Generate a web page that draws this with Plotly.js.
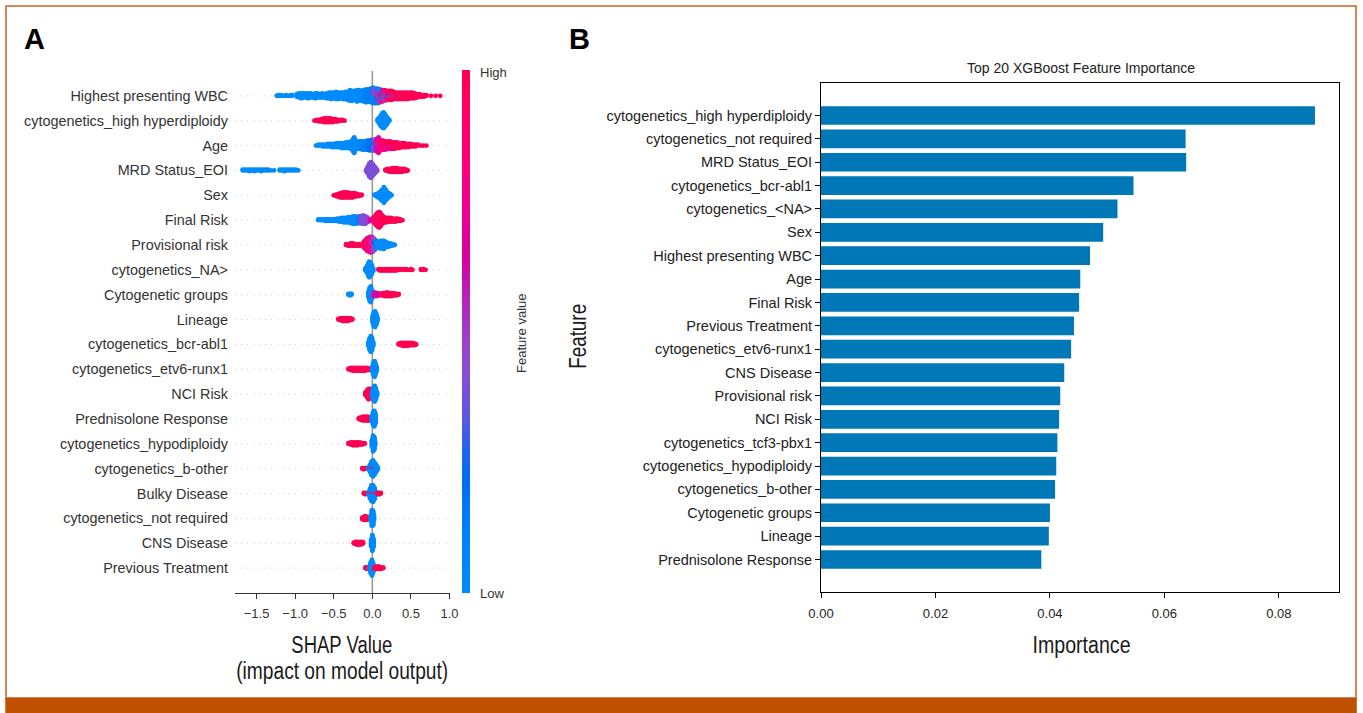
<!DOCTYPE html>
<html>
<head>
<meta charset="utf-8">
<script src="https://cdn.plot.ly/plotly-3.0.1.min.js"></script>
<style>html,body{margin:0;padding:0;background:#fff;}#chart{width:1363px;height:713px;}</style>
</head>
<body>
<div id="chart"></div>
<script>
// ---------------- Panel A : SHAP summary (beeswarm) ----------------
// feature labels, top to bottom
const shapFeatures = ["Highest presenting WBC", "cytogenetics_high hyperdiploidy", "Age", "MRD Status_EOI", "Sex",
  "Final Risk", "Provisional risk", "cytogenetics_NA>", "Cytogenetic groups", "Lineage", "cytogenetics_bcr-abl1",
  "cytogenetics_etv6-runx1", "NCI Risk", "Prednisolone Response", "cytogenetics_hypodiploidy", "cytogenetics_b-other",
  "Bulky Disease", "cytogenetics_not required", "CNS Disease", "Previous Treatment"];

// each entry: [SHAP value, number of samples at that value, feature value (0 = low, 1 = high)]
const shapWBC = [
  [-1.24,1,0],[-1.22,2,0],[-1.20,2,0],[-1.18,2,0],[-1.15,1,0],[-1.12,2,0],[-1.09,1,0],[-1.06,2,0],[-1.04,2,0],
  [-0.98,4,0],[-0.95,6,0],[-0.92,7,0],[-0.89,6,0],[-0.86,6,0],[-0.83,7,0],[-0.80,6,0],[-0.77,5,0],[-0.74,7,0],[-0.71,6,0],[-0.68,5,0],[-0.65,6,0],[-0.62,5,0],
  [-0.59,7,0],[-0.56,8,0],[-0.53,9,0],[-0.50,8,0],[-0.47,10,0],[-0.44,9,0],[-0.41,8,0],[-0.38,9,0],[-0.35,10,0],[-0.32,11,0],
  [-0.29,14,0],[-0.26,13,0],[-0.23,12,0],[-0.20,15,0],[-0.17,14,0],[-0.14,13,0],[-0.11,15,0.05],[-0.08,17,0.1],[-0.05,16,0.1],[-0.02,18,0.15],
  [0.01,12,0.1],[0.01,8,0.4],[0.04,10,0.15],[0.04,9,0.45],[0.07,8,0.1],[0.07,6,0.5],[0.07,5,0.8],
  [0.10,6,0.05],[0.10,6,0.55],[0.10,5,0.85],[0.13,5,0.1],[0.13,5,0.6],[0.13,5,0.85],[0.16,4,0.05],[0.16,5,0.5],[0.16,5,0.9],
  [0.19,3,0.1],[0.19,4,0.65],[0.19,5,0.9],[0.22,3,0.05],[0.22,4,0.7],[0.22,5,1],[0.25,3,0.3],[0.25,4,0.8],[0.25,5,1],[0.28,2,0.1],[0.28,4,0.85],[0.28,4,1],
  [0.31,2,0.05],[0.31,7,1],[0.34,2,0.6],[0.34,7,1],[0.37,2,0.1],[0.37,7,0.95],[0.40,9,1],[0.43,2,0.3],[0.43,7,1],[0.46,9,1],[0.49,8,0.9],[0.52,8,1],
  [0.55,7,1],[0.58,5,1],[0.61,4,1],[0.64,3,1],[0.67,3,1],[0.70,2,1],[0.76,1,1],[0.82,1,1],[0.88,1,1]
];
const shapHyper = [
  [-0.75,1,1],[-0.72,2,1],[-0.69,3,1],[-0.66,4,1],[-0.63,6,1],[-0.60,6,1],[-0.57,6,1],[-0.54,6,1],[-0.51,5,1],[-0.48,4,1],[-0.45,3,1],[-0.42,2,1],[-0.39,2,1],[-0.36,1,1],
  [0.07,4,0],[0.09,9,0],[0.11,15,0],[0.13,20,0],[0.145,22,0],[0.16,18,0],[0.18,13,0],[0.20,7,0],[0.22,2,0]
];
const shapAge = [
  [-0.73,1,0],[-0.70,2,0],[-0.67,2,0],[-0.64,3,0],[-0.61,3,0],[-0.58,4,0],[-0.55,4,0],[-0.52,5,0],[-0.49,5,0],[-0.46,6,0],[-0.43,6,0],[-0.40,7,0],[-0.37,7,0],
  [-0.34,8,0],[-0.31,8,0],[-0.28,10,0],[-0.25,16,0],[-0.235,20,0.05],[-0.22,12,0],[-0.19,10,0],[-0.16,10,0.05],[-0.13,11,0.1],[-0.10,11,0.1],[-0.07,12,0.15],[-0.04,13,0.2],[-0.01,14,0.2],
  [0.02,8,0.45],[0.02,6,0.2],[0.05,8,0.6],[0.05,6,0.8],[0.05,2,0.3],[0.08,10,0.7],[0.08,8,0.85],[0.08,2,0.4],[0.11,8,0.75],[0.11,6,0.9],[0.14,7,0.85],[0.14,5,1],
  [0.17,6,0.8],[0.17,5,1],[0.20,5,0.7],[0.20,5,1],[0.23,5,0.85],[0.23,5,1],[0.26,4,0.6],[0.26,5,1],[0.29,4,0.8],[0.29,5,1],[0.32,8,1],[0.35,7,1],[0.38,6,0.9],
  [0.41,6,1],[0.44,5,1],[0.47,5,1],[0.50,4,1],[0.53,3,1],[0.56,3,1],[0.59,2,1],[0.63,1,1],[0.66,1,1],[0.70,1,1]
];
const shapMRD = [
  [-1.68,2,0],[-1.65,2,0],[-1.62,2,0],[-1.59,3,0],[-1.56,2,0],[-1.53,3,0],[-1.50,2,0],[-1.47,2,0],[-1.44,3,0],[-1.41,2,0],[-1.38,2,0],[-1.35,2,0],[-1.32,1,0],[-1.275,1,0],
  [-1.20,2,0],[-1.17,2,0],[-1.14,3,0],[-1.11,2,0],[-1.08,2,0],[-1.05,2,0],[-1.02,2,0],[-0.99,2,0],[-0.96,1,0],
  [-0.08,3,0.4],[-0.06,10,0.4],[-0.04,18,0.4],[-0.02,22,0.4],[0.00,18,0.4],[0.02,12,0.4],[0.04,8,0.4],[0.06,3,0.4],
  [0.17,2,1],[0.20,4,1],[0.23,5,1],[0.26,6,1],[0.29,6,1],[0.32,6,1],[0.35,5,1],[0.38,5,1],[0.41,4,1],[0.44,3,1],[0.46,1,1]
];
const shapSex = [
  [-0.50,1,1],[-0.47,3,1],[-0.44,5,1],[-0.41,7,1],[-0.38,8,1],[-0.35,8,1],[-0.32,8,1],[-0.29,7,1],[-0.26,7,1],[-0.23,6,1],[-0.20,4,1],[-0.17,3,1],[-0.14,2,1],
  [0.03,2,0],[0.06,5,0],[0.09,9,0],[0.12,15,0],[0.15,22,0],[0.17,16,0],[0.19,11,0],[0.21,7,0],[0.23,4,0],[0.25,1,0]
];
const shapFinal = [
  [-0.70,2,0],[-0.67,2,0],[-0.64,2,0],[-0.61,3,0],[-0.58,3,0],[-0.55,3,0],[-0.52,3,0],[-0.49,3,0],[-0.46,4,0],[-0.43,5,0],[-0.40,6,0],[-0.37,7,0],[-0.34,7,0],
  [-0.31,8,0],[-0.28,9,0],[-0.25,11,0],[-0.22,11,0],[-0.19,9,0.05],[-0.17,10,0.15],
  [-0.15,10,0.4],[-0.13,12,0.4],[-0.11,12,0.4],[-0.09,11,0.4],[-0.07,8,0.45],[-0.05,5,0.5],[-0.03,3,0.6],
  [0.01,6,0.85],[0.03,10,0.9],[0.05,16,0.9],[0.07,20,0.95],[0.09,22,0.95],[0.11,18,0.95],[0.13,12,1],[0.15,8,1],[0.18,7,1],[0.21,6,1],[0.24,6,1],[0.27,5,1],
  [0.30,5,1],[0.33,4,1],[0.36,3,1],[0.39,1,1]
];
const shapProv = [
  [-0.34,2,1],[-0.31,3,1],[-0.28,4,1],[-0.25,4,1],[-0.22,3,1],[-0.19,3,1],[-0.16,3,1],
  [-0.11,8,1],[-0.09,12,0.9],[-0.07,16,0.85],[-0.05,18,0.85],[-0.03,20,0.8],[-0.01,12,0.8],[-0.01,8,0.45],[0.01,10,0.45],[0.01,8,0.8],[0.03,8,0.45],[0.03,6,0.2],[0.05,10,0.1],
  [0.07,8,0],[0.09,9,0],[0.11,10,0],[0.13,10,0],[0.15,11,0],[0.17,8,0],[0.19,6,0],[0.21,5,0],[0.23,4,0],[0.25,3,0],[0.27,2,0],[0.29,1,0]
];
const shapNA = [
  [-0.09,4,0],[-0.07,10,0],[-0.05,18,0],[-0.04,22,0],[-0.03,20,0],[-0.01,14,0],[0.01,5,0],
  [0.08,2,1],[0.10,3,1],[0.13,3,1],[0.16,3,1],[0.19,3,1],[0.22,3,1],[0.25,3,1],[0.28,3,1],[0.31,3,1],[0.34,2,1],[0.37,2,1],
  [0.41,2,1],[0.44,2,1],[0.47,1,1],[0.50,2,1],[0.52,1,1],[0.63,2,1],[0.66,2,1],[0.69,1,1]
];
const shapGroups = [
  [-0.31,2,0],[-0.29,3,0],[-0.27,2,0],
  [-0.05,8,0],[-0.035,18,0],[-0.02,22,0],[-0.005,12,0],
  [0.01,5,0.55],[0.03,6,0.6],[0.05,5,0.6],[0.07,4,0.65],[0.09,3,0.7],
  [0.13,4,1],[0.16,5,1],[0.19,6,1],[0.22,5,1],[0.25,5,1],[0.28,4,1],[0.31,3,1],[0.34,2,1]
];
const shapLineage = [
  [-0.44,2,1],[-0.41,4,1],[-0.38,5,1],[-0.35,5,1],[-0.32,5,1],[-0.29,4,1],[-0.26,2,1],
  [0.005,10,0],[0.02,20,0],[0.035,22,0],[0.05,16,0],[0.065,6,0]
];
const shapBcr = [
  [-0.05,6,0],[-0.035,16,0],[-0.02,22,0],[-0.005,18,0],[0.01,6,0],
  [0.34,2,1],[0.37,4,1],[0.40,5,1],[0.43,5,1],[0.46,5,1],[0.49,4,1],[0.52,4,1],[0.55,3,1],[0.57,1,1]
];
const shapEtv6 = [
  [-0.31,2,1],[-0.28,4,1],[-0.25,5,1],[-0.22,5,1],[-0.19,5,1],[-0.16,5,1],[-0.13,5,1],[-0.10,5,1],[-0.07,4,1],[-0.04,3,1],
  [0.0,8,0],[0.015,18,0],[0.03,22,0],[0.045,14,0],[0.055,6,0]
];
const shapNCI = [
  [-0.09,4,1],[-0.07,10,1],[-0.05,15,1],[-0.03,14,1],[-0.015,8,1],
  [0.0,8,0],[0.015,18,0],[0.03,22,0],[0.045,16,0],[0.06,6,0]
];
const shapPred = [
  [-0.175,2,1],[-0.15,4,1],[-0.12,6,1],[-0.09,6,1],[-0.06,6,1],[-0.03,5,1],
  [-0.005,8,0],[0.01,18,0],[0.025,22,0],[0.04,14,0]
];
const shapHypo = [
  [-0.31,2,1],[-0.28,4,1],[-0.25,5,1],[-0.22,5,1],[-0.19,5,1],[-0.16,4,1],[-0.13,3,1],[-0.10,2,1],
  [-0.005,10,0],[0.01,22,0],[0.025,18,0],[0.035,6,0]
];
const shapBother = [
  [-0.13,2,1],[-0.11,3,1],[-0.09,2,1],
  [-0.05,4,0],[-0.03,10,0],[-0.03,2,1],[-0.01,18,0],[-0.01,4,1],[0.01,22,0],[0.01,4,1],[0.03,16,0],[0.03,3,1],[0.05,10,0],[0.05,2,1],[0.07,4,0]
];
const shapBulky = [
  [-0.11,2,1],[-0.09,3,1],
  [-0.05,4,0],[-0.03,12,0],[-0.03,3,1],[-0.01,20,0],[-0.01,4,1],[0.01,22,0],[0.01,3,1],[0.03,14,0],[0.03,3,1],[0.05,5,0],[0.06,2,1],[0.09,3,1],[0.11,2,1]
];
const shapNotReq = [
  [-0.13,3,1],[-0.11,5,1],[-0.09,6,1],[-0.07,5,1],[-0.05,2,1],
  [-0.02,8,0],[-0.005,22,0],[0.01,20,0],[0.02,8,0]
];
const shapCNS = [
  [-0.24,2,1],[-0.22,4,1],[-0.19,5,1],[-0.16,5,1],[-0.13,4,1],[-0.12,2,1],
  [-0.015,10,0],[0.0,22,0],[0.015,12,0]
];
const shapPrev = [
  [-0.09,2,1],[-0.07,3,1],[-0.05,2,1],
  [-0.035,6,0],[-0.02,16,0],[-0.005,22,0],[0.01,14,0],[0.02,4,0],
  [0.03,3,1],[0.05,4,1],[0.07,4,1],[0.09,4,1],[0.11,3,1],[0.14,2,1]
];
const shapTicks = [-1.5, -1.0, -0.5, 0.0, 0.5, 1.0];

// ---------------- Panel B : XGBoost feature importance ----------------
const impFeatures = ["cytogenetics_high hyperdiploidy", "cytogenetics_not required", "MRD Status_EOI", "cytogenetics_bcr-abl1",
  "cytogenetics_<NA>", "Sex", "Highest presenting WBC", "Age", "Final Risk", "Previous Treatment", "cytogenetics_etv6-runx1",
  "CNS Disease", "Provisional risk", "NCI Risk", "cytogenetics_tcf3-pbx1", "cytogenetics_hypodiploidy", "cytogenetics_b-other",
  "Cytogenetic groups", "Lineage", "Prednisolone Response"];
const impValues = [0.0863, 0.0637, 0.0638, 0.0546, 0.0518, 0.0493, 0.0470, 0.0453, 0.0451, 0.0442, 0.0437,
  0.0425, 0.0418, 0.0416, 0.0413, 0.0411, 0.0409, 0.0400, 0.0398, 0.0385];
const impTicks = [0, 0.02, 0.04, 0.06, 0.08];

// ---------------- build ----------------
const W = 1363, H = 713;
const px = v => v / W, py = v => 1 - v / H;
const esc = s => s.replace(/&/g, '&amp;').replace(/</g, '&lt;').replace(/>/g, '&gt;');

const shapRows = [shapWBC, shapHyper, shapAge, shapMRD, shapSex, shapFinal, shapProv, shapNA, shapGroups, shapLineage,
  shapBcr, shapEtv6, shapNCI, shapPred, shapHypo, shapBother, shapBulky, shapNotReq, shapCNS, shapPrev];

// beeswarm layout in the manner of shap: stack points of the same value alternately above / below the row
function swarm(clusters) {
  const cols = new Map();
  clusters.forEach(cl => {
    const k = cl[0].toFixed(4);
    if (!cols.has(k)) cols.set(k, []);
    cols.get(k).push(cl);
  });
  const keys = [...cols.keys()].sort((a, b) => parseFloat(a) - parseFloat(b));
  const out = [];
  let maxOff = 0;
  keys.forEach(k => {
    const g = cols.get(k);
    const maxN = Math.max(...g.map(c => c[1]));
    const seq = [];
    for (let r = 0; r < maxN; r++) g.forEach(c => { if (r < c[1]) seq.push(c); });
    seq.forEach((c, layer) => {
      const off = Math.ceil(layer / 2) * ((layer % 2) * 2 - 1);
      if (off > maxOff) maxOff = off;
      out.push({x: c[0], c: c[2], off: off});
    });
  });
  const s = 0.9 * 0.4 / (maxOff + 1);
  return out.map(p => ({x: p.x, c: p.c, dy: p.off * s}));
}

const sx = [], sy = [], sc = [];
shapRows.forEach((row, i) => {
  const yr = shapRows.length - 1 - i;
  swarm(row).forEach(p => { sx.push(p.x); sy.push(yr + p.dy); sc.push(p.c); });
});

const shapScale = [
  [0, '#008bfb'], [0.12, '#0080f6'], [0.22, '#006cf0'], [0.27, '#1f64ec'], [0.33, '#5a58e2'], [0.4, '#7d4fda'],
  [0.48, '#9c42cb'], [0.56, '#b524bb'], [0.64, '#d4009f'], [0.74, '#f00090'], [0.86, '#ff0074'], [1, '#ff0052']
];

const swarmTrace = {
  type: 'scatter', mode: 'markers', x: sx, y: sy, xaxis: 'x', yaxis: 'y', hoverinfo: 'skip',
  marker: {
    size: 4.8, color: sc, colorscale: shapScale, cmin: 0, cmax: 1, line: {width: 0}, opacity: 1,
    showscale: true,
    colorbar: {
      x: px(462), xanchor: 'left', xref: 'paper', y: py(593), yanchor: 'bottom', yref: 'paper',
      len: (593 - 70) / H, lenmode: 'fraction', thickness: 8, thicknessmode: 'pixels',
      xpad: 0, ypad: 0, outlinewidth: 0, showticklabels: false, ticks: ''
    }
  }
};

const barTrace = {
  type: 'bar', orientation: 'h', x: impValues, y: impFeatures.map(esc), xaxis: 'x2', yaxis: 'y2',
  width: 0.8, marker: {color: '#0077b6', line: {width: 0}}, hoverinfo: 'skip'
};

const shapes = [];
for (let r = 0; r < shapFeatures.length; r++) {
  shapes.push({type: 'line', xref: 'x', yref: 'y', x0: -1.78, x1: 1.0, y0: r, y1: r, layer: 'below',
    line: {color: '#cccccc', width: 1, dash: '1px,5px'}});
}
shapes.push({type: 'line', xref: 'x', yref: 'y', x0: 0, x1: 0, y0: -1, y1: 20, layer: 'below',
  line: {color: '#999999', width: 1.6}});
shapes.push({type: 'rect', xref: 'paper', yref: 'paper', x0: px(6), x1: px(1356), y0: py(698), y1: py(6),
  line: {color: '#c8621e', width: 1.5}});
shapes.push({type: 'rect', xref: 'paper', yref: 'paper', x0: px(5.3), x1: px(1356.8), y0: 0, y1: py(698),
  fillcolor: '#c14f00', line: {width: 0}});

const ann = (text, x, y, opts) => Object.assign({text: text, x: px(x), y: py(y), xref: 'paper', yref: 'paper',
  showarrow: false, xanchor: 'center', yanchor: 'middle'}, opts || {});
const bigFont = {size: 23, color: '#1a1a1a'};

const annotations = [
  ann('A', 22, 39, {xanchor: 'left', font: {size: 29, color: '#000', weight: 'bold'}}),
  ann('B', 567, 39, {xanchor: 'left', font: {size: 29, color: '#000', weight: 'bold'}}),
  ann('High', 478, 72, {xanchor: 'left', font: {size: 13, color: '#333'}}),
  ann('Low', 478, 593, {xanchor: 'left', font: {size: 13, color: '#333'}}),
  ann('Feature value', 521, 333, {textangle: -90, font: {size: 13, color: '#333'}}),
  ann('SHAP Value', 342, 645, {font: bigFont}),
  ann('(impact on model output)', 342, 671, {font: bigFont}),
  ann('Top 20 XGBoost Feature Importance', 1081, 68, {font: {size: 14, color: '#222'}}),
  ann('Importance', 1081, 645, {font: bigFont}),
  ann('Feature', 578, 337, {textangle: -90, font: bigFont})
];
// widths (px) of the condensed axis titles in the reference
const condensedWidths = {'SHAP Value': 101, '(impact on model output)': 212, 'Importance': 98, 'Feature': 65};

const layout = {
  width: W, height: H, margin: {l: 0, r: 0, t: 0, b: 0, pad: 0},
  paper_bgcolor: '#ffffff', plot_bgcolor: 'rgba(0,0,0,0)', showlegend: false,
  font: {family: 'Liberation Sans, Arial, sans-serif', color: '#222'},
  xaxis: {domain: [px(235), px(449.5)], range: [-1.78, 1.0], tickvals: shapTicks, tickformat: '.1f',
    ticks: 'outside', ticklen: 5, tickwidth: 1, tickcolor: '#333', showline: true, linecolor: '#333', linewidth: 1,
    showgrid: false, zeroline: false, tickfont: {size: 13, color: '#333'}, ticklabelstandoff: 3, anchor: 'y', fixedrange: true},
  yaxis: {domain: [py(593), py(71)], range: [-1, 20], tickvals: shapFeatures.map((f, i) => shapFeatures.length - 1 - i),
    ticktext: shapFeatures.map(esc), showgrid: false, zeroline: false, showline: false, ticks: '',
    ticklabelstandoff: 6, tickfont: {size: 14.4, color: '#333'}, anchor: 'x', fixedrange: true},
  xaxis2: {domain: [px(821), px(1339)], range: [0, 0.0905], tickvals: impTicks, tickformat: '.2f',
    ticks: 'outside', ticklen: 5, tickwidth: 1, tickcolor: '#000', showline: true, mirror: true, linecolor: '#000',
    linewidth: 1, showgrid: false, zeroline: false, tickfont: {size: 13, color: '#222'}, ticklabelstandoff: 4,
    anchor: 'y2', fixedrange: true},
  yaxis2: {domain: [py(592), py(83)], type: 'category', categoryorder: 'array', categoryarray: impFeatures.map(esc),
    range: [impFeatures.length - 0.6 + 0.99, -0.4 - 0.99], ticks: 'outside', ticklen: 5, tickwidth: 1, tickcolor: '#000',
    showline: true, mirror: true, linecolor: '#000', linewidth: 1, showgrid: false, zeroline: false,
    tickfont: {size: 14.5, color: '#222'}, anchor: 'x2', fixedrange: true},
  shapes: shapes,
  annotations: annotations
};

Plotly.newPlot('chart', [swarmTrace, barTrace], layout, {displayModeBar: false, staticPlot: true}).then(gd => {
  gd.querySelectorAll('text.annotation-text').forEach(t => {
    const w = condensedWidths[t.textContent];
    if (w) { t.setAttribute('textLength', w); t.setAttribute('lengthAdjust', 'spacingAndGlyphs'); }
  });
});
</script>
</body>
</html>
